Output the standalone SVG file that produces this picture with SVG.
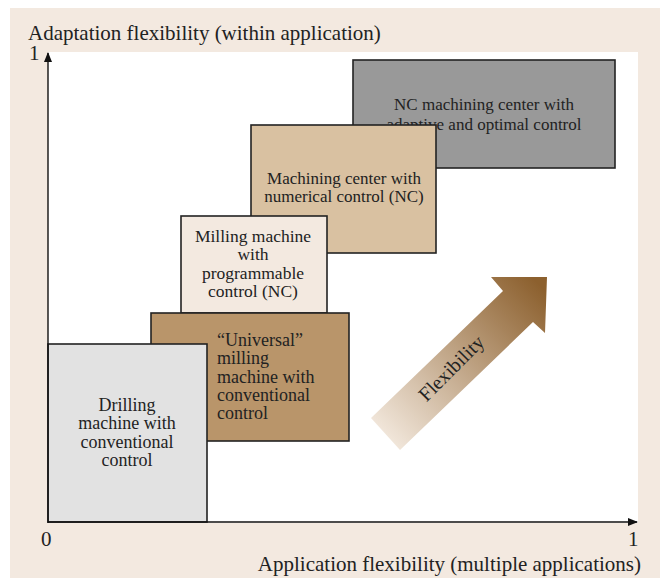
<svg xmlns="http://www.w3.org/2000/svg" width="660" height="578" viewBox="0 0 660 578">
<defs>
<style>
text{font-family:"Liberation Serif","Times New Roman",serif;fill:#222;}
.ax{font-size:21px;}
.nl{font-size:17.5px;}
.lg{font-size:18px;}
.sm{font-size:17px;}
.c{text-anchor:middle;}
.box{stroke:#222;stroke-width:1.6;}
.axis{stroke:#111;stroke-width:1.4;fill:none;}
</style>
<linearGradient id="flex" x1="385" y1="435" x2="540" y2="285" gradientUnits="userSpaceOnUse">
<stop offset="0" stop-color="#f1e6da"/>
<stop offset="1" stop-color="#8c602e"/>
</linearGradient>
<marker id="ah" viewBox="0 0 10 10" refX="9" refY="5" markerWidth="10" markerHeight="10" markerUnits="userSpaceOnUse" orient="auto">
<path d="M0,1 L10,5 L0,9 z" fill="#111"/>
</marker>
</defs>
<rect x="10" y="8" width="650" height="570" fill="#f3e9e0"/>
<rect x="48" y="52" width="590" height="471" fill="#ffffff"/>
<g id="flexibility-arrow">
<polygon points="371,418 503,291 491,277 547,277 545,333 533,322 400,450" fill="url(#flex)"/>
<text class="c" font-size="20" transform="translate(456,373) rotate(-45)">Flexibility</text>
</g>
<g id="node-nc-adaptive">
<rect class="box" x="353" y="60" width="262" height="108" fill="#999999"/>
<text class="sm c" x="484" y="110">NC machining center with</text>
<text class="sm c" x="484" y="130">adaptive and optimal control</text>
</g>
<g id="node-machining-center">
<rect class="box" x="251" y="125" width="185" height="128" fill="#d9c1a1"/>
<text class="sm c" x="344" y="184">Machining center with</text>
<text class="sm c" x="344" y="202">numerical control (NC)</text>
</g>
<g id="node-milling-programmable">
<rect class="box" x="181" y="216" width="146" height="97" fill="#f3e9e0"/>
<text class="nl c" x="253" y="242">Milling machine</text>
<text class="nl c" x="253" y="260">with</text>
<text class="nl c" x="253" y="279">programmable</text>
<text class="nl c" x="253" y="297">control (NC)</text>
</g>
<g id="node-universal-milling">
<rect class="box" x="151" y="313" width="198" height="128" fill="#b9956a"/>
<text class="lg" x="217" y="346">“Universal”</text>
<text class="lg" x="217" y="364">milling</text>
<text class="lg" x="217" y="383">machine with</text>
<text class="lg" x="217" y="401">conventional</text>
<text class="lg" x="217" y="419">control</text>
</g>
<g id="node-drilling">
<rect class="box" x="48" y="344" width="159" height="178" fill="#e2e2e2"/>
<text class="lg c" x="127" y="411">Drilling</text>
<text class="lg c" x="127" y="429">machine with</text>
<text class="lg c" x="127" y="448">conventional</text>
<text class="lg c" x="127" y="466">control</text>
</g>
<g id="connectors">
<line class="axis" x1="48" y1="523" x2="48" y2="53" marker-end="url(#ah)"/>
<line class="axis" x1="48" y1="522" x2="637" y2="522" marker-end="url(#ah)"/>
</g>
<g id="labels">
<text class="ax" x="28" y="40">Adaptation flexibility (within application)</text>
<text class="ax" x="29" y="60">1</text>
<text class="ax" x="41" y="546">0</text>
<text class="ax" x="628" y="546">1</text>
<text class="ax" x="641" y="571" text-anchor="end">Application flexibility (multiple applications)</text>
</g>
</svg>
